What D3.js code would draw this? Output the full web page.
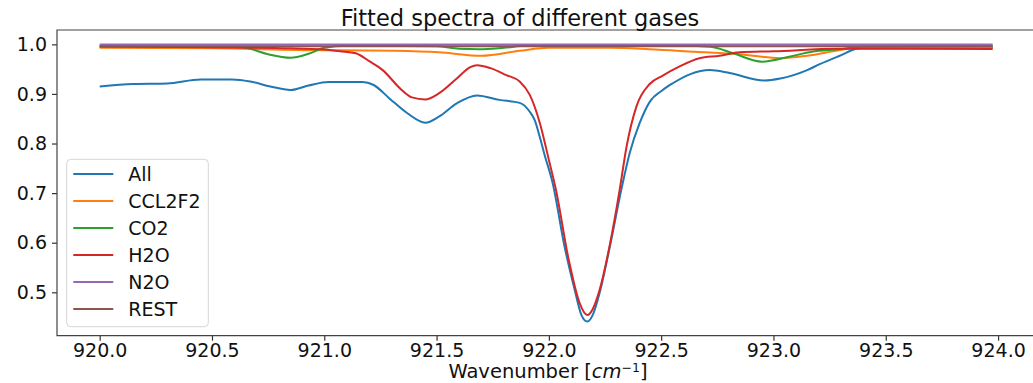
<!DOCTYPE html>
<html>
<head>
<meta charset="utf-8">
<script src="https://cdn.jsdelivr.net/npm/d3@7"></script>
<style>
  body { margin: 0; background: #fff; }
  svg { display: block; font-family: "DejaVu Sans", sans-serif; }
</style>
</head>
<body>
<svg id="chart" width="1033" height="383"></svg>
<script>
// series: wavenumber knots + transmission values
var allWn  = [920.0, 920.15, 920.3, 920.45, 920.59, 920.67, 920.76, 920.85, 920.93, 921.02, 921.17, 921.22, 921.29, 921.37, 921.45, 921.51, 921.59, 921.68, 921.78, 921.87, 921.915, 921.937, 921.959, 921.981, 922.017, 922.07, 922.115, 922.145, 922.171, 922.195, 922.226, 922.271, 922.324, 922.36, 922.404, 922.449, 922.507, 922.55, 922.63, 922.716, 922.805, 922.96, 923.03, 923.15, 923.206, 923.29, 923.38, 923.47, 923.976];
var allVal = [0.915, 0.920, 0.921, 0.929, 0.929, 0.925, 0.915, 0.908, 0.917, 0.924, 0.924, 0.918, 0.891, 0.861, 0.842, 0.854, 0.881, 0.897, 0.888, 0.882, 0.864, 0.847, 0.814, 0.777, 0.720, 0.592, 0.505, 0.454, 0.441, 0.454, 0.499, 0.591, 0.710, 0.781, 0.841, 0.884, 0.908, 0.921, 0.940, 0.948, 0.942, 0.927, 0.931, 0.948, 0.960, 0.976, 0.992, 0.994, 0.994];

var ccl2f2Wn  = [920.0, 920.5, 921.0, 921.07, 921.3, 921.51, 921.7, 921.87, 922.0, 922.27, 922.45, 922.65, 922.85, 923.03, 923.15, 923.29, 923.35, 923.976];
var ccl2f2Val = [0.993, 0.992, 0.988, 0.988, 0.987, 0.984, 0.977, 0.987, 0.993, 0.993, 0.990, 0.985, 0.980, 0.972, 0.977, 0.988, 0.992, 0.993];

var co2Wn  = [920.0, 920.6, 920.65, 920.75, 920.85, 920.93, 921.0, 921.1, 921.5, 921.6, 921.69, 921.8, 921.9, 922.6, 922.72, 922.82, 922.95, 923.07, 923.17, 923.29, 923.4, 923.976];
var co2Val = [0.995, 0.995, 0.993, 0.980, 0.973, 0.981, 0.993, 0.997, 0.996, 0.991, 0.990, 0.993, 0.997, 0.997, 0.995, 0.982, 0.965, 0.975, 0.985, 0.990, 0.995, 0.996];

var h2oWn  = [920.0, 920.45, 920.85, 920.99, 921.07, 921.14, 921.2, 921.26, 921.34, 921.39, 921.45, 921.51, 921.59, 921.65, 921.68, 921.74, 921.81, 921.87, 921.915, 921.96, 922.0, 922.03, 922.09, 922.137, 922.171, 922.195, 922.226, 922.271, 922.315, 922.346, 922.39, 922.449, 922.507, 922.58, 922.67, 922.76, 922.85, 923.0, 923.29, 923.976];
var h2oVal = [0.996, 0.994, 0.992, 0.990, 0.986, 0.982, 0.966, 0.948, 0.910, 0.893, 0.889, 0.901, 0.931, 0.954, 0.958, 0.952, 0.938, 0.925, 0.898, 0.841, 0.767, 0.710, 0.562, 0.478, 0.454, 0.466, 0.505, 0.595, 0.706, 0.794, 0.875, 0.920, 0.937, 0.955, 0.972, 0.977, 0.984, 0.986, 0.991, 0.9905];

var n2oWn  = [920.0, 923.976];
var n2oVal = [0.9995, 0.9995];

var restWn  = [920.0, 923.976];
var restVal = [0.996, 0.996];

var seriesNames = ["All", "CCL2F2", "CO2", "H2O", "N2O", "REST"];
var xTicks = [920.0, 920.5, 921.0, 921.5, 922.0, 922.5, 923.0, 923.5, 924.0];
var yTicks = [0.5, 0.6, 0.7, 0.8, 0.9, 1.0];

var colors = ["#1f77b4", "#ff7f0e", "#2ca02c", "#d62728", "#9467bd", "#8c564b"];

var series = [
  {name: seriesNames[0], wn: allWn, val: allVal},
  {name: seriesNames[1], wn: ccl2f2Wn, val: ccl2f2Val},
  {name: seriesNames[2], wn: co2Wn, val: co2Val},
  {name: seriesNames[3], wn: h2oWn, val: h2oVal},
  {name: seriesNames[4], wn: n2oWn, val: n2oVal},
  {name: seriesNames[5], wn: restWn, val: restVal}
];

var svg = d3.select("#chart");

var FONT = 19;
var LEFT = 57, TOP = 30, BOTTOM = 335.7;
var x = d3.scaleLinear().domain([919.81, 924.17]).range([LEFT, LEFT + 4.36 * 224.6]);
var y = d3.scaleLinear().domain([0.4125, 1.0289]).range([BOTTOM, TOP]);

svg.append("clipPath").attr("id", "clip")
  .append("rect").attr("x", LEFT).attr("y", TOP).attr("width", 1033 - LEFT).attr("height", BOTTOM - TOP);

var line = d3.line()
  .x(function(d){ return x(d[0]); })
  .y(function(d){ return y(d[1]); })
  .curve(d3.curveMonotoneX);

var plot = svg.append("g").attr("clip-path", "url(#clip)");
series.forEach(function(s, i){
  var pts = s.wn.map(function(w, j){ return [w, s.val[j]]; });
  plot.append("path")
    .attr("d", line(pts))
    .attr("fill", "none")
    .attr("stroke", colors[i])
    .attr("stroke-width", 2)
    .attr("stroke-linejoin", "round");
});

// axes
var xAxis = d3.axisBottom(x).tickValues(xTicks).tickFormat(d3.format(".1f")).tickSize(5).tickPadding(3);
var yAxis = d3.axisLeft(y).tickValues(yTicks).tickFormat(d3.format(".1f")).tickSize(5).tickPadding(5);

var gx = svg.append("g").attr("transform", "translate(0," + BOTTOM + ")").call(xAxis);
var gy = svg.append("g").attr("transform", "translate(" + LEFT + ",0)").call(yAxis);
[gx, gy].forEach(function(g){
  g.select(".domain").remove();
  g.selectAll(".tick line").attr("stroke", "#333").attr("stroke-width", 1.2);
  g.selectAll(".tick text").attr("fill", "#111").attr("font-size", FONT).attr("font-family", "DejaVu Sans");
});

// spines (right spine is off the picture)
svg.append("path")
  .attr("d", "M1033," + TOP + "H" + LEFT + "V" + BOTTOM + "H1033")
  .attr("fill", "none").attr("stroke", "#444").attr("stroke-width", 1.2);

// title and x label
svg.append("text").attr("x", 520).attr("y", 25.5).attr("text-anchor", "middle")
  .attr("font-size", 22.5).attr("fill", "#111").text("Fitted spectra of different gases");

var xl = svg.append("text").attr("x", 548).attr("y", 377.5).attr("text-anchor", "middle")
  .attr("font-size", 19.5).attr("fill", "#111");
xl.append("tspan").text("Wavenumber [");
xl.append("tspan").attr("font-style", "italic").text("cm");
xl.append("tspan").attr("font-size", 12.5).attr("dy", -5.5).text("\u22121");
xl.append("tspan").attr("dy", 5.5).text("]");

// legend
var lg = svg.append("g").attr("transform", "translate(66.7,159.3)");
lg.append("rect").attr("width", 141.6).attr("height", 167.4).attr("rx", 4)
  .attr("fill", "#fff").attr("fill-opacity", 0.8).attr("stroke", "#d5d5d5").attr("stroke-width", 1);
series.forEach(function(s, i){
  var cy = 14.7 + i * 27;
  lg.append("line").attr("x1", 6.6).attr("x2", 46.6).attr("y1", cy).attr("y2", cy)
    .attr("stroke", colors[i]).attr("stroke-width", 2);
  lg.append("text").attr("x", 61.6).attr("y", cy).attr("dy", "0.35em")
    .attr("font-size", FONT).attr("fill", "#111").text(s.name);
});
</script>
</body>
</html>
